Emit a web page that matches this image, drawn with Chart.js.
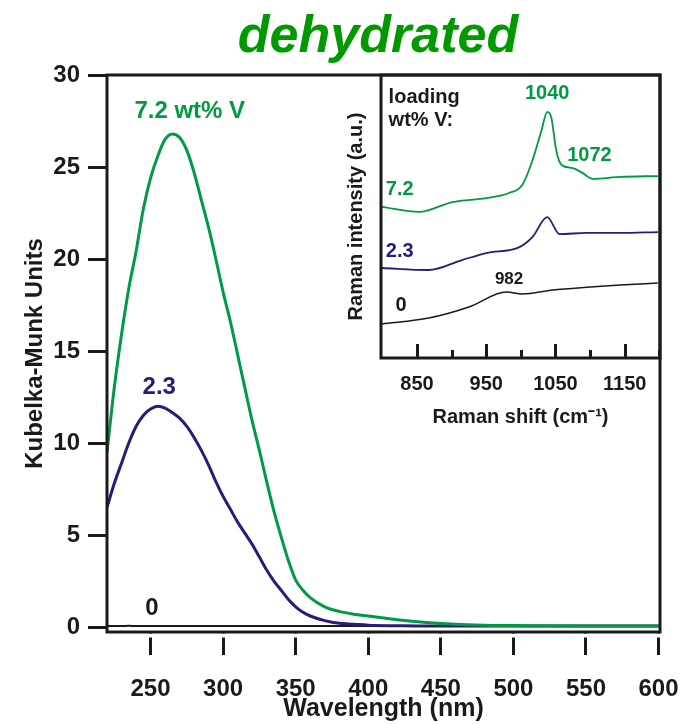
<!DOCTYPE html>
<html>
<head>
<meta charset="utf-8">
<script src="https://cdn.jsdelivr.net/npm/chart.js@4.4.1/dist/chart.umd.min.js"></script>
<style>
  html, body { margin: 0; padding: 0; background: #fff; }
  #wrap { position: relative; width: 686px; height: 724px; }
  #mainChart { position: absolute; left: 0; top: 0; }
  #insetChart { position: absolute; left: 330px; top: 60px; }
</style>
</head>
<body>
<div id="wrap">
  <canvas id="mainChart" width="686" height="724"></canvas>
  <canvas id="insetChart" width="356" height="390"></canvas>
</div>
<script>
// main plot: diffuse reflectance UV-vis (Kubelka-Munk)
var chartTitle = 'dehydrated';
var wavelength = [220, 225, 230, 235, 240, 245, 250, 255, 260, 265, 270, 275, 280, 285, 290, 295,
  300, 305, 310, 315, 320, 325, 330, 335, 340, 345, 350, 355, 360, 370, 380, 390, 400, 420, 440,
  460, 480, 500, 550, 600];
var km72 = [9.5, 13.0, 15.9, 18.4, 20.4, 22.7, 24.4, 25.6, 26.5, 26.8, 26.6, 25.9, 24.7, 23.2, 21.7, 20.0,
  18.2, 16.6, 14.8, 13.0, 11.2, 9.6, 7.9, 6.3, 4.9, 3.6, 2.55, 2.0, 1.6, 1.1, 0.85, 0.7, 0.6, 0.4, 0.25,
  0.15, 0.1, 0.08, 0.05, 0.05];
var km23 = [6.5, 7.8, 8.9, 10.0, 10.9, 11.5, 11.85, 12.0, 11.9, 11.65, 11.35, 10.9, 10.3, 9.6, 8.8, 7.9,
  7.1, 6.4, 5.7, 5.1, 4.5, 3.8, 3.1, 2.5, 2.0, 1.5, 1.1, 0.8, 0.6, 0.35, 0.2, 0.15, 0.1, 0.07, 0.05,
  0.05, 0.05, 0.05, 0.05, 0.05];
var km0 = [0.05, 0.06, 0.05, 0.07, 0.05, 0.06, 0.05, 0.06, 0.05, 0.05, 0.06, 0.05, 0.05, 0.06, 0.05, 0.05,
  0.06, 0.05, 0.05, 0.05, 0.06, 0.05, 0.05, 0.05, 0.05, 0.06, 0.05, 0.05, 0.05, 0.05, 0.05, 0.05, 0.05, 0.05, 0.05,
  0.05, 0.05, 0.05, 0.05, 0.05];
var xTicks = [250, 300, 350, 400, 450, 500, 550, 600];
var yTicks = [0, 5, 10, 15, 20, 25, 30];

var mainLabels = ['7.2 wt% V', '2.3', '0'];
var mainLabelX = [277, 256, 251];
var mainLabelY = [28.0, 13.0, 1.0];

// inset: Raman spectra
var ramanShift = [799, 853, 901, 950, 983, 1002, 1017, 1030, 1038, 1044, 1051, 1059, 1075, 1089, 1104, 1143, 1198];
var raman72 = [53.4, 51.6, 55.1, 56.5, 58.3, 61.1, 70, 80.6, 87, 85, 73.5, 68.2, 67.1, 65.4, 63.3, 64, 64.3];
var ramanShift23 = [799, 867, 915, 950, 998, 1017, 1038, 1056, 1095, 1143, 1198];
var raman23 = [31.8, 31.1, 34.6, 37.1, 39.2, 42.8, 49.8, 43.8, 44.2, 44.2, 44.5];
var ramanShift0 = [799, 867, 925, 979, 1002, 1046, 1095, 1143, 1198];
var raman0 = [12, 14.1, 18, 23.3, 22.6, 24, 25, 25.8, 26.5];
var ramanTicks = [850, 950, 1050, 1150];
var ramanMinor = [900, 1000, 1100, 1200];

var insetLabels = ['loading', 'wt% V:', '1040', '1072', '7.2', '2.3', '982', '0'];
var insetLabelX = [809, 809, 1038, 1099, 825, 825, 983, 827];
var insetLabelY = [91.9, 84.1, 93.6, 71.7, 59.4, 37.8, 27.9, 18.7];

var green = '#009a44';
var purple = '#2a1a7a';
var black = '#1a1a1a';
var FONT = '"Liberation Sans", Arial, sans-serif';

Chart.defaults.font.family = FONT;
Chart.defaults.color = black;

function toPts(xs, ys) {
  return xs.map(function (x, i) { return { x: x, y: ys[i] }; });
}

var whiteBg = {
  id: 'whiteBg',
  beforeDraw: function (chart) {
    var c = chart.ctx;
    c.save();
    c.fillStyle = '#fff';
    c.fillRect(0, 0, chart.width, chart.height);
    c.restore();
  }
};

var frame = {
  id: 'frame',
  afterDraw: function (chart) {
    var a = chart.chartArea, c = chart.ctx;
    c.save();
    if (chart.canvas.id == 'mainChart') {
      // small gap between the frame and the x tick marks
      c.fillStyle = '#fff';
      c.fillRect(a.left + 2, a.bottom + 1.5, a.right - a.left, 4);
    }
    c.strokeStyle = black;
    c.lineWidth = 3;
    c.strokeRect(a.left, a.top, a.right - a.left, a.bottom - a.top);
    c.restore();
  }
};

// title + curve labels
var mainText = {
  id: 'mainText',
  afterDatasetsDraw: function (chart) {
    var c = chart.ctx, xs = chart.scales.x, ys = chart.scales.y;
    var cols = [green, purple, black];
    c.save();
    c.font = 'italic bold 52px ' + FONT;
    c.fillStyle = '#009900';
    c.textAlign = 'center';
    c.textBaseline = 'alphabetic';
    c.fillText(chartTitle, 378, 52);
    c.font = 'bold 24px ' + FONT;
    c.textBaseline = 'middle';
    mainLabels.forEach(function (t, i) {
      c.fillStyle = cols[i];
      c.fillText(t, xs.getPixelForValue(mainLabelX[i]), ys.getPixelForValue(mainLabelY[i]));
    });
    c.restore();
  }
};

new Chart(document.getElementById('mainChart'), {
  type: 'line',
  data: {
    datasets: [
      { label: '7.2', data: toPts(wavelength, km72), borderColor: green, borderWidth: 3 },
      { label: '2.3', data: toPts(wavelength, km23), borderColor: purple, borderWidth: 3 },
      { label: '0', data: toPts(wavelength, km0), borderColor: black, borderWidth: 2 }
    ]
  },
  options: {
    responsive: false,
    animation: false,
    events: [],
    elements: { point: { radius: 0 }, line: { cubicInterpolationMode: 'monotone' } },
    layout: { padding: { left: 0, right: 26, top: 75, bottom: 0 } },
    plugins: {
      legend: { display: false },
      tooltip: { enabled: false }
    },
    scales: {
      x: {
        type: 'linear',
        min: 220, max: 601,
        afterFit: function (s) { s.height = 92; s.paddingLeft = 0; s.paddingRight = 0; },
        afterBuildTicks: function (s) { s.ticks = xTicks.map(function (v) { return { value: v }; }); },
        grid: { drawOnChartArea: false, tickLength: 23, lineWidth: 3, color: black },
        border: { display: false },
        ticks: { font: { size: 24, weight: 'bold' }, padding: 20, maxRotation: 0, color: black,
          callback: function (v) { return String(v); } },
        title: { display: true, text: 'Wavelength (nm)', font: { size: 25, weight: 'bold' }, padding: { top: 0, bottom: 0 }, color: black }
      },
      y: {
        min: -0.27, max: 30,
        afterFit: function (s) { s.width = 107; },
        afterBuildTicks: function (s) { s.ticks = yTicks.map(function (v) { return { value: v }; }); },
        grid: { drawOnChartArea: false, tickLength: 19, lineWidth: 3, color: black },
        border: { display: false },
        ticks: { font: { size: 24, weight: 'bold' }, padding: 8, color: black },
        title: { display: true, text: 'Kubelka-Munk Units', font: { size: 24, weight: 'bold' }, padding: { top: 21, bottom: 0 }, color: black }
      }
    }
  },
  plugins: [whiteBg, frame, mainText]
});

var insetTicks = {
  id: 'insetTicks',
  afterDraw: function (chart) {
    var c = chart.ctx, xs = chart.scales.x, a = chart.chartArea;
    c.save();
    c.strokeStyle = black;
    c.lineWidth = 3;
    ramanTicks.concat(ramanMinor).forEach(function (v) {
      var len = ramanTicks.indexOf(v) >= 0 ? 14 : 8;
      var px = Math.round(xs.getPixelForValue(v)) + 0.5;
      c.beginPath();
      c.moveTo(px, a.bottom);
      c.lineTo(px, a.bottom - len);
      c.stroke();
    });
    c.restore();
  }
};

var insetText = {
  id: 'insetText',
  afterDatasetsDraw: function (chart) {
    var c = chart.ctx, xs = chart.scales.x, ys = chart.scales.y;
    var cols = [black, black, green, green, green, purple, black, black];
    var aligns = ['left', 'left', 'center', 'center', 'center', 'center', 'center', 'center'];
    c.save();
    c.textBaseline = 'middle';
    insetLabels.forEach(function (t, i) {
      c.font = (i == 6 ? 'bold 17px ' : 'bold 20px ') + FONT;
      c.fillStyle = cols[i];
      c.textAlign = aligns[i];
      c.fillText(t, xs.getPixelForValue(insetLabelX[i]), ys.getPixelForValue(insetLabelY[i]));
    });
    c.restore();
  }
};

new Chart(document.getElementById('insetChart'), {
  type: 'line',
  data: {
    datasets: [
      { label: '7.2', data: toPts(ramanShift, raman72), borderColor: green, borderWidth: 1.8 },
      { label: '2.3', data: toPts(ramanShift23, raman23), borderColor: purple, borderWidth: 1.8 },
      { label: '0', data: toPts(ramanShift0, raman0), borderColor: black, borderWidth: 1.5 }
    ]
  },
  options: {
    responsive: false,
    animation: false,
    events: [],
    elements: { point: { radius: 0 }, line: { cubicInterpolationMode: 'monotone' } },
    layout: { padding: { left: 0, right: 26, top: 15, bottom: 0 } },
    plugins: { legend: { display: false }, tooltip: { enabled: false } },
    scales: {
      x: {
        type: 'linear',
        min: 798, max: 1201,
        afterFit: function (s) { s.height = 92; s.paddingLeft = 0; s.paddingRight = 0; },
        afterBuildTicks: function (s) { s.ticks = ramanTicks.map(function (v) { return { value: v }; }); },
        grid: { display: false },
        border: { display: false },
        ticks: { font: { size: 20, weight: 'bold' }, padding: 6, maxRotation: 0, color: black,
          callback: function (v) { return String(v); } },
        title: { display: true, text: 'Raman shift (cm\u207B\u00B9)', font: { size: 20, weight: 'bold' }, padding: { top: 0, bottom: 21 }, color: black }
      },
      y: {
        min: 0, max: 100,
        afterFit: function (s) { s.width = 51; },
        grid: { display: false },
        border: { display: false },
        ticks: { display: false },
        title: { display: true, text: 'Raman intensity (a.u.)', font: { size: 20, weight: 'bold' }, padding: { top: 14, bottom: 0 }, color: black }
      }
    }
  },
  plugins: [frame, insetTicks, insetText]
});
</script>
</body>
</html>
